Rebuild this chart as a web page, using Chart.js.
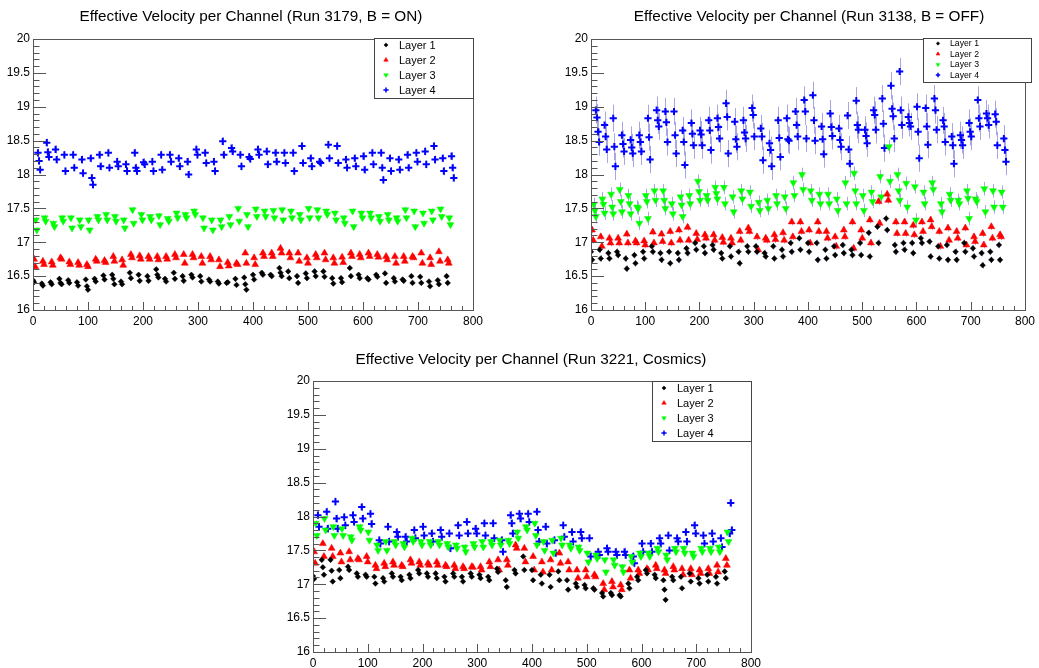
<!DOCTYPE html>
<html>
<head>
<meta charset="utf-8">
<script src="https://cdn.jsdelivr.net/npm/chart.js@4.4.1/dist/chart.umd.min.js"></script>
<style>
  body { margin: 0; background: #fff; }
  canvas { position: absolute; }
</style>
</head>
<body>
<canvas id="c1" width="519" height="334" style="left:0;top:0"></canvas>
<canvas id="c2" width="520" height="334" style="left:519px;top:0"></canvas>
<canvas id="c3" width="519" height="334" style="left:260px;top:334px"></canvas>
<script>
// ---- data ----
const layerNames = ['Layer 1', 'Layer 2', 'Layer 3', 'Layer 4'];
const layerOffset = [0, 2, 5, 9];   // first channel of each layer inside a 16-channel group
const xTickValues = [0, 100, 200, 300, 400, 500, 600, 700, 800];
const yTickValues = [16, 16.5, 17, 17.5, 18, 18.5, 19, 19.5, 20];

// Run 3179, B = ON  (one inner list per 16-channel group)
const run3179L1 = [[16.44,16.41],[16.39,16.36],[16.41,16.38],[16.46,16.40,16.38],[16.44,16.40],[16.41,16.36],[16.45,16.35,16.30],[16.46,16.42],[16.51,16.45],[16.52,16.46,16.38],[16.42,16.38],[16.55,16.47],[16.52,16.43],[16.50,16.43],[16.60,16.52,16.48],[16.46,16.42],[16.55,16.46],[16.50,16.43],[16.52,16.48],[16.50,16.42],[16.45,16.42],[16.42,16.39],[16.40,16.41],[16.46,16.37],[16.48,16.38,16.30],[16.52,16.45],[16.55,16.52],[16.52,16.50],[16.62,16.55,16.50],[16.57,16.47],[16.50,16.40],[16.54,16.47],[16.57,16.50],[16.57,16.49],[16.47,16.39],[16.47,16.41],[16.62,16.50],[16.52,16.47],[16.47,16.45],[16.52,16.49],[16.54,16.40],[16.47,16.42],[16.45,16.43],[16.50,16.40],[16.49,16.40],[16.42,16.35],[16.44,16.38],[16.50,16.40]];
const run3179L2 = [[16.75,16.64],[16.72,16.67],[16.71,16.66],[16.77,16.75],[16.71,16.67],[16.70,16.66],[16.67,16.64],[16.75,16.72],[16.73,16.70],[16.79,16.72],[16.74,16.66],[16.82,16.77],[16.80,16.75],[16.79,16.75],[16.79,16.74],[16.79,16.75],[16.82,16.77],[16.82,16.69],[16.82,16.77],[16.79,16.69],[16.79,16.74],[16.74,16.64],[16.70,16.65],[16.69,16.67],[16.84,16.69],[16.77,16.67],[16.84,16.79],[16.84,16.79],[16.91,16.84],[16.84,16.77],[16.84,16.72],[16.77,16.69],[16.82,16.77],[16.84,16.74],[16.77,16.69],[16.78,16.70],[16.84,16.79],[16.82,16.77],[16.84,16.79],[16.82,16.78],[16.79,16.74],[16.79,16.69],[16.79,16.72],[16.79,16.77],[16.84,16.69],[16.77,16.67],[16.86,16.72],[16.74,16.69]];
const run3179L3 = [[17.33,17.18],[17.36,17.31],[17.28,17.23],[17.36,17.31],[17.36,17.21],[17.33,17.23],[17.33,17.18],[17.38,17.33],[17.41,17.33],[17.38,17.31],[17.33,17.21],[17.48,17.28],[17.41,17.33],[17.38,17.33],[17.39,17.26],[17.35,17.31],[17.43,17.36],[17.41,17.36],[17.46,17.41],[17.36,17.21],[17.33,17.18],[17.33,17.23],[17.38,17.26],[17.50,17.31],[17.41,17.23],[17.49,17.38],[17.46,17.38],[17.47,17.36],[17.48,17.33],[17.46,17.36],[17.41,17.33],[17.50,17.36],[17.48,17.36],[17.46,17.41],[17.43,17.33],[17.36,17.28],[17.46,17.23],[17.43,17.36],[17.43,17.36],[17.38,17.31],[17.41,17.33],[17.36,17.31],[17.48,17.36],[17.46,17.23],[17.43,17.28],[17.46,17.33],[17.49,17.38],[17.36,17.26]];
const run3179L4 = [[18.32,18.20,18.07],[18.47,18.33,18.26],[18.37,18.22],[18.29,18.05],[18.29,18.10],[18.22,18.02],[18.24,17.95,17.85],[18.29,18.12],[18.32,18.10],[18.19,18.12],[18.15,18.05],[18.32,18.10,18.05],[18.18,18.15],[18.19,18.05],[18.29,18.07],[18.29,18.19],[18.24,18.12],[18.19,18.00],[18.37,18.29],[18.32,18.17],[18.19,18.05],[18.49,18.29],[18.39,18.34],[18.29,18.12],[18.26,18.23],[18.37,18.29],[18.34,18.15],[18.32,18.19],[18.32,18.17],[18.32,18.05],[18.42,18.17],[18.24,18.12],[18.19,18.17],[18.44,18.24],[18.42,18.17],[18.22,18.10],[18.24,18.12],[18.27,18.07],[18.32,18.15],[18.32,18.10,17.92],[18.24,18.05],[18.22,18.07],[18.29,18.10],[18.32,18.19],[18.34,18.15],[18.42,18.22],[18.24,18.05],[18.27,18.10,17.95]];

// Run 3138, B = OFF
const run3138L1 = [[16.86,16.74],[16.89,16.76],[16.84,16.76],[16.86,16.81],[16.76,16.61],[16.81,16.69],[16.86,16.76],[16.94,16.86],[16.84,16.74],[16.86,16.69],[16.84,16.74],[16.91,16.84],[16.99,16.89],[16.94,16.84],[16.96,16.89],[16.84,16.76],[16.94,16.79],[16.86,16.69],[16.94,16.86],[16.94,16.86],[16.84,16.79],[16.94,16.76],[16.89,16.79],[16.99,16.86],[17.06,16.89],[16.99,16.86],[16.99,16.74],[16.89,16.76],[16.94,16.81],[16.96,16.84],[16.89,16.81],[16.99,16.81],[17.14,16.79],[17.23,16.99],[17.35,17.18],[16.96,16.86],[16.99,16.89],[16.99,16.84],[17.06,16.99],[17.01,16.79],[16.94,16.76],[16.96,16.74],[16.86,16.74],[16.99,16.86],[16.91,16.79],[16.84,16.66],[16.86,16.74],[16.96,16.74]];
const run3138L2 = [[17.18,17.03],[17.08,16.94],[17.06,16.99],[17.06,16.99],[17.12,16.99],[17.02,16.99],[17.02,16.96],[17.15,16.99],[17.12,17.01],[17.16,16.99],[17.18,17.03],[17.22,17.03],[17.13,17.04],[17.11,17.06],[17.11,17.03],[17.07,17.00],[17.06,16.99],[17.16,17.03],[17.21,17.16],[17.08,16.89],[17.06,17.03],[17.11,17.04],[17.14,17.03],[17.30,17.08],[17.30,17.16],[17.18,16.99],[17.30,17.16],[17.16,17.06],[17.08,16.94],[17.18,17.08],[17.30,16.91],[17.18,17.06],[17.33,16.99],[17.60,17.28],[17.71,17.62],[17.30,17.13],[17.30,17.13],[17.25,17.11],[17.30,17.16],[17.33,17.23],[17.16,16.94],[17.21,17.03],[17.16,17.06],[17.21,16.96],[17.08,17.01],[17.13,16.96],[17.23,17.06],[17.11,17.08]];
const run3138L3 = [[17.56,17.47,17.38],[17.64,17.56,17.43],[17.71,17.52,17.42],[17.78,17.60,17.45],[17.69,17.57,17.42],[17.52,17.50,17.28],[17.69,17.60,17.35],[17.76,17.62],[17.76,17.62,17.50],[17.57,17.42],[17.67,17.55,17.38],[17.69,17.57],[17.90,17.75,17.62],[17.69,17.62],[17.81,17.72,17.64],[17.81,17.57],[17.67,17.45],[17.76,17.64],[17.74,17.53],[17.59,17.47],[17.62,17.50],[17.69,17.57],[17.67,17.50],[17.88,17.69],[18.00,17.78],[17.76,17.62],[17.71,17.57],[17.71,17.57],[17.64,17.47],[17.88,17.57],[18.02,17.76,17.57],[17.69,17.47],[17.74,17.60],[17.97,17.67],[18.41,17.90],[18.00,17.76,17.62],[17.87,17.52],[17.82,17.33],[17.74,17.57],[17.88,17.78],[17.57,17.45],[17.71,17.62],[17.62,17.57],[17.76,17.65,17.35],[17.64,17.60],[17.79,17.45],[17.76,17.52],[17.74,17.52]];
const run3138L4 = [[18.95,18.84,18.63,18.48],[18.73,18.56,18.37],[18.83,18.41,18.12],[18.58,18.45,18.34],[18.51,18.40,18.31],[18.58,18.48,18.34],[18.83,18.55,18.22],[18.95,18.80,18.71],[18.93,18.77,18.48],[18.93,18.58,18.31],[18.65,18.48,18.14],[18.76,18.60,18.43],[18.65,18.59,18.43],[18.80,18.65,18.36],[18.83,18.70,18.53],[19.05,18.85,18.31],[18.78,18.52,18.41],[18.80,18.62,18.53],[18.98,18.88,18.56],[18.68,18.56,18.21],[18.46,18.36,18.12],[18.80,18.54,18.26],[18.83,18.52,18.50],[18.93,18.73,18.56],[19.10,18.93,18.53],[19.17,18.80,18.50],[18.71,18.52,18.30],[18.90,18.70,18.57],[18.68,18.51,18.41],[18.87,18.37,18.16],[19.09,18.73,18.66],[18.66,18.57,18.46],[18.95,18.88,18.66],[19.12,18.75,18.39],[19.31,18.97,18.86,18.53],[19.52,18.95,18.73],[18.85,18.76,18.71],[19.00,18.63,18.24],[18.98,18.71,18.44],[19.12,18.95,18.66],[18.80,18.71,18.48],[18.56,18.43,18.16],[18.58,18.51,18.43],[18.76,18.63,18.56],[19.10,18.83,18.71],[18.90,18.83,18.73],[18.89,18.78,18.43],[18.53,18.36,18.19]];

// Run 3221, Cosmics
const run3221L1 = [[17.12,17.08],[17.36,17.25,17.14],[17.36,17.20,17.04],[17.21,17.09],[17.26,17.21],[17.16,17.11],[17.14,17.11],[17.11,17.01],[17.09,17.04],[17.16,17.11],[17.11,17.06],[17.14,17.09],[17.21,17.16],[17.16,17.11],[17.16,17.09],[17.11,17.04],[17.16,17.11],[17.11,17.04],[17.16,17.11],[17.14,17.09],[17.11,17.06],[17.23,17.18],[17.06,16.96],[17.21,17.16],[17.41,17.21],[17.21,17.06],[17.14,17.01],[17.14,16.96],[17.19,17.06],[17.06,16.92],[17.01,16.96],[16.99,16.94],[16.94,16.92],[16.87,16.82],[16.87,16.84],[16.84,16.82],[17.01,16.94],[17.11,17.06],[17.21,17.16],[17.14,17.09],[17.06,16.92,16.77],[17.11,17.06],[17.11,16.94],[17.16,17.04],[17.09,17.01],[17.14,17.04],[17.11,17.01],[17.19,17.09]];
const run3221L2 = [[17.48,17.31],[17.60,17.41],[17.53,17.41],[17.46,17.33],[17.48,17.36],[17.38,17.36],[17.41,17.33],[17.28,17.23],[17.31,17.26],[17.33,17.28],[17.28,17.26],[17.36,17.31],[17.33,17.28],[17.31,17.28],[17.33,17.28],[17.28,17.26],[17.28,17.23],[17.26,17.23],[17.26,17.25],[17.26,17.21],[17.33,17.26],[17.36,17.21],[17.36,17.28],[17.58,17.53],[17.53,17.33],[17.41,17.21],[17.33,17.18],[17.36,17.21],[17.46,17.31],[17.33,17.21],[17.21,17.09],[17.21,17.11],[17.14,17.11],[17.01,16.92],[17.04,16.96],[16.99,16.92],[17.21,17.09],[17.21,17.16],[17.23,17.21],[17.28,17.23],[17.21,17.16],[17.26,17.21],[17.23,17.14],[17.23,17.14],[17.21,17.16],[17.23,17.16],[17.28,17.18],[17.38,17.28]];
const run3221L3 = [[17.90,17.72],[17.97,17.80],[17.85,17.72],[17.82,17.72],[17.70,17.65],[17.85,17.80],[17.77,17.65],[17.58,17.50],[17.63,17.50],[17.63,17.58],[17.60,17.55],[17.68,17.63],[17.63,17.58],[17.63,17.58],[17.63,17.58],[17.60,17.55],[17.58,17.53],[17.55,17.48],[17.60,17.55],[17.63,17.55],[17.63,17.58],[17.65,17.58],[17.65,17.60],[17.77,17.68],[17.85,17.80],[17.90,17.72,17.58],[17.63,17.50],[17.65,17.46],[17.68,17.58],[17.58,17.53],[17.55,17.50],[17.46,17.33],[17.43,17.38],[17.36,17.18],[17.36,17.28],[17.26,17.18],[17.41,17.33],[17.46,17.41],[17.46,17.41],[17.53,17.48],[17.43,17.36],[17.53,17.48],[17.53,17.46],[17.46,17.41],[17.53,17.48],[17.53,17.48],[17.55,17.48],[17.77,17.63]];
const run3221L4 = [[18.02,17.85],[18.07,17.82],[18.22,17.97,17.82],[17.99,17.87],[18.02,17.92],[18.14,17.97],[18.04,17.89],[17.65,17.60],[17.85,17.63],[17.77,17.70],[17.70,17.63],[17.80,17.68],[17.85,17.72],[17.75,17.63],[17.80,17.70],[17.75,17.53],[17.87,17.72],[17.92,17.75],[17.82,17.75],[17.90,17.72],[17.90,17.68],[17.65,17.48],[18.02,17.90,17.75],[18.04,17.97],[18.04,17.92],[18.07,17.80,17.63],[17.85,17.60],[17.65,17.46],[17.87,17.70],[17.77,17.63],[17.77,17.68],[17.68,17.41],[17.48,17.43],[17.53,17.48],[17.48,17.43],[17.48,17.43],[17.41,17.31],[17.60,17.48],[17.60,17.48],[17.68,17.60],[17.72,17.50],[17.68,17.63],[17.77,17.63],[17.87,17.75],[17.72,17.60],[17.75,17.63],[17.68,17.55],[17.75,18.20,17.80]];

// uncertainty per layer
const err3179 = [0.03, 0.03, 0.04, 0.06];
const err3138 = [0.05, 0.05, 0.10, 0.20];
const err3221 = [0.03, 0.03, 0.04, 0.06];

// ---- styles ----
Chart.defaults.font.family = '"Liberation Sans", Arial, Helvetica, sans-serif';
Chart.defaults.font.size = 12;
Chart.defaults.color = '#000';

const markers = [
  { style: 'rectRot',  radius: 2.8, color: '#000000', rotation: 0,   bw: 0.5 },
  { style: 'triangle', radius: 4.0, color: '#ff0000', rotation: 0,   bw: 0.5 },
  { style: 'triangle', radius: 4.0, color: '#00ff00', rotation: 180, bw: 0.5 },
  { style: 'cross',    radius: 3.6, color: '#0000ff', rotation: 0,   bw: 2 }
];
const errColor = 'rgba(80, 80, 205, 0.5)';
const frameColor = '#555';

function toPoints(groups, layer) {
  const pts = [];
  groups.forEach((g, k) => {
    g.forEach((v, j) => pts.push({ x: 16 * k + layerOffset[layer] + 2 * j, y: v }));
  });
  return pts;
}

// draws error bars, frame, inside ticks, title and legend
const rootPlugin = {
  id: 'rootStyle',
  beforeDatasetsDraw(chart) {
    const { ctx, scales: { y } } = chart;
    const cfg = chart.options.plugins.rootStyle;
    ctx.save();
    ctx.strokeStyle = errColor;
    ctx.lineWidth = 1;
    chart.data.datasets.forEach((ds, i) => {
      const meta = chart.getDatasetMeta(i);
      ds.data.forEach((p, j) => {
        const el = meta.data[j];
        const px = Math.round(el.x) + 0.5;
        ctx.beginPath();
        ctx.moveTo(px, y.getPixelForValue(p.y + cfg.err[i]));
        ctx.lineTo(px, y.getPixelForValue(p.y - cfg.err[i]));
        ctx.stroke();
      });
    });
    ctx.restore();
  },
  afterDraw(chart) {
    const { ctx, chartArea: a, scales: { x, y } } = chart;
    const cfg = chart.options.plugins.rootStyle;
    ctx.save();
    // frame
    ctx.strokeStyle = frameColor;
    ctx.lineWidth = 1;
    ctx.strokeRect(Math.round(a.left) + 0.5, Math.round(a.top) + 0.5,
      Math.round(a.right - a.left), Math.round(a.bottom - a.top));
    // y ticks
    ctx.beginPath();
    for (let i = 0; i <= 40; i++) {
      const py = Math.round(y.getPixelForValue(16 + i * 0.1)) + 0.5;
      const len = i % 5 === 0 ? 13 : 6.5;
      ctx.moveTo(a.left, py);
      ctx.lineTo(a.left + len, py);
    }
    // x ticks
    for (let i = 0; i <= 40; i++) {
      const px = Math.round(x.getPixelForValue(i * 20)) + 0.5;
      const len = i % 5 === 0 ? 8 : 4;
      ctx.moveTo(px, a.bottom);
      ctx.lineTo(px, a.bottom - len);
    }
    ctx.stroke();

    // title
    ctx.fillStyle = '#000';
    ctx.font = '15.3px "Liberation Sans", Arial, sans-serif';
    ctx.textAlign = 'center';
    ctx.textBaseline = 'alphabetic';
    ctx.fillText(cfg.title, cfg.titleX, cfg.titleY);

    // legend
    const lg = cfg.legend;
    ctx.fillStyle = '#fff';
    ctx.fillRect(lg.x, lg.y, lg.w, lg.h);
    ctx.strokeStyle = '#444';
    ctx.strokeRect(lg.x + 0.5, lg.y + 0.5, lg.w, lg.h);
    ctx.font = lg.font + 'px "Liberation Sans", Arial, sans-serif';
    ctx.textAlign = 'left';
    ctx.textBaseline = 'middle';
    chart.data.datasets.forEach((ds, i) => {
      const m = markers[i];
      const ry = lg.rows[i];
      ctx.fillStyle = m.color;
      ctx.strokeStyle = m.color;
      ctx.lineWidth = m.style === 'cross' ? 1.5 : 0.5;
      Chart.helpers.drawPoint(ctx, {
        pointStyle: m.style, radius: lg.mr * (m.style === 'rectRot' ? 0.8 : 1),
        rotation: m.rotation, borderWidth: ctx.lineWidth
      }, lg.mx, ry);
      ctx.fillStyle = '#000';
      ctx.fillText(ds.label, lg.tx, ry + 0.5);
    });
    ctx.restore();
  }
};

const panels = [
  { id: 'c1', groups: [run3179L1, run3179L2, run3179L3, run3179L4], err: err3179,
    title: 'Effective Velocity per Channel (Run 3179, B = ON)', titleX: 251, titleY: 21,
    pad: { left: 0, top: 39, right: 46, bottom: 4 }, yWidth: 33,
    legend: { x: 374, y: 38, w: 99, h: 60, rows: [45, 60, 75, 90], mx: 386, tx: 399, font: 11, mr: 2.6 } },
  { id: 'c2', groups: [run3138L1, run3138L2, run3138L3, run3138L4], err: err3138,
    title: 'Effective Velocity per Channel (Run 3138, B = OFF)', titleX: 290, titleY: 21,
    pad: { left: 32, top: 39, right: 8, bottom: 4 }, yWidth: 40,
    legend: { x: 404, y: 38, w: 108, h: 44, rows: [43.5, 54, 64.5, 75], mx: 419, tx: 431, font: 8.7, mr: 2.2 } },
  { id: 'c3', groups: [run3221L1, run3221L2, run3221L3, run3221L4], err: err3221,
    title: 'Effective Velocity per Channel (Run 3221, Cosmics)', titleX: 271, titleY: 30,
    pad: { left: 13, top: 47, right: 28, bottom: -4 }, yWidth: 40,
    legend: { x: 392, y: 47, w: 99, h: 60, rows: [54, 69, 84, 99], mx: 404, tx: 417, font: 11, mr: 2.6 } }
];

panels.forEach(p => {
  const datasets = p.groups.map((g, i) => ({
    label: layerNames[i],
    data: toPoints(g, i),
    pointStyle: markers[i].style,
    pointRadius: markers[i].radius,
    pointRotation: markers[i].rotation,
    pointBorderWidth: markers[i].bw,
    backgroundColor: markers[i].color,
    borderColor: markers[i].color,
    showLine: false
  }));

  new Chart(document.getElementById(p.id), {
    type: 'scatter',
    data: { datasets },
    options: {
      responsive: false,
      animation: false,
      events: [],
      layout: { padding: p.pad },
      plugins: {
        legend: { display: false },
        title: { display: false },
        tooltip: { enabled: false },
        rootStyle: { err: p.err, title: p.title, titleX: p.titleX, titleY: p.titleY, legend: p.legend }
      },
      scales: {
        x: {
          type: 'linear', min: 0, max: 800,
          grid: { display: false, drawTicks: false },
          border: { display: false },
          ticks: { padding: 4, maxRotation: 0, autoSkip: false, callback: v => String(v) },
          afterBuildTicks: s => { s.ticks = xTickValues.map(v => ({ value: v })); },
          afterFit: s => { s.height = 20; }
        },
        y: {
          type: 'linear', min: 16, max: 20,
          grid: { display: false, drawTicks: false },
          border: { display: false },
          ticks: { padding: 3, autoSkip: false, callback: v => String(v) },
          afterBuildTicks: s => { s.ticks = yTickValues.map(v => ({ value: v })); },
          afterFit: s => { s.width = p.yWidth; }
        }
      }
    },
    plugins: [rootPlugin]
  });
});
</script>
</body>
</html>
